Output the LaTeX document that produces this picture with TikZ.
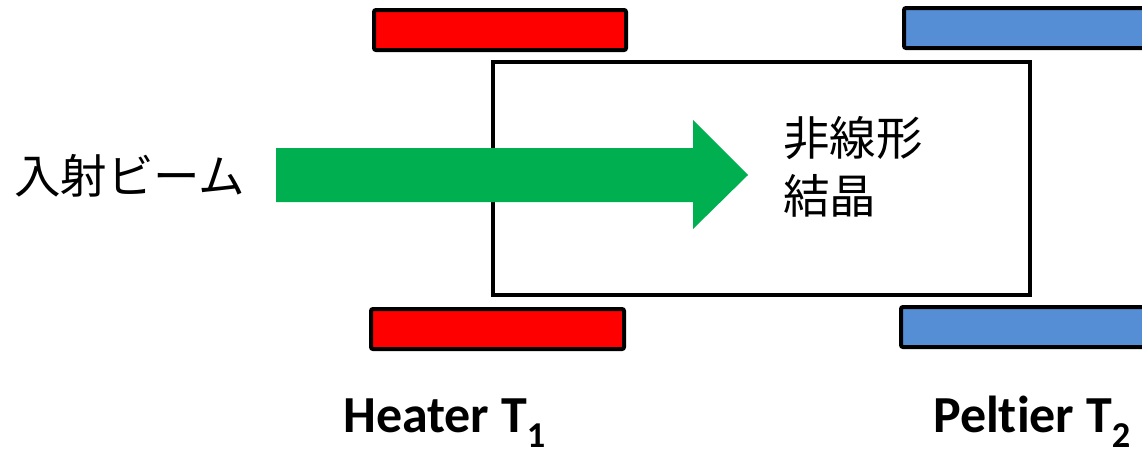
\documentclass[tikz,border=0pt]{standalone}
\usepackage{fontspec}
\setmainfont[Ligatures=CommonOff]{Carlito}
\newfontfamily\cjk{Noto Sans CJK JP}
\definecolor{heatred}{HTML}{FF0000}
\definecolor{peltblue}{HTML}{558ED5}
\definecolor{beamgreen}{HTML}{00B050}
\begin{document}
\begin{tikzpicture}[x=1pt,y=-1pt,
  plate/.style={draw=black,line width=4pt,rounded corners=2pt},
  jtext/.style={inner sep=0pt,font=\cjk\fontsize{46.5}{58}\selectfont},
  ltext/.style={inner sep=0pt,font=\bfseries\fontsize{52}{56}\selectfont}]
\useasboundingbox (0,0) rectangle (1142,453);
% crystal
\draw[line width=3.5pt] (493,62) rectangle (1030,295);
\node[inner sep=0pt] (crystal) at (761.5,178.5) {};
% plates
\filldraw[plate,fill=heatred] (374,10) rectangle (626,50);
\node[inner sep=0pt] (h1) at (500,30) {};
\filldraw[plate,fill=heatred] (371,309) rectangle (624,349);
\node[inner sep=0pt] (h2) at (497,329) {};
\filldraw[plate,fill=peltblue] (904,8) rectangle (1160,48);
\node[inner sep=0pt] (p1) at (1030,28) {};
\filldraw[plate,fill=peltblue] (901,307) rectangle (1160,347);
\node[inner sep=0pt] (p2) at (1030,327) {};
% beam arrow
\fill[beamgreen] (276,148) -- (693,148) -- (693,120) -- (748,175) -- (693,229) -- (693,202) -- (276,202) -- cycle;
\node[inner sep=0pt] (beam) at (500,175) {};
% texts
\node[jtext,anchor=west] (inlabel) at (14,176) {入射ビーム};
\node[jtext,anchor=north west,align=left] (xtal) at (783,116) {非線形\\結晶};
\node[ltext,anchor=base west] (heater) at (343,432) {Heater T\textsubscript{1}};
\node[ltext,anchor=base west] (peltier) at (933,432) {Peltier T\textsubscript{2}};
\end{tikzpicture}
\end{document}
